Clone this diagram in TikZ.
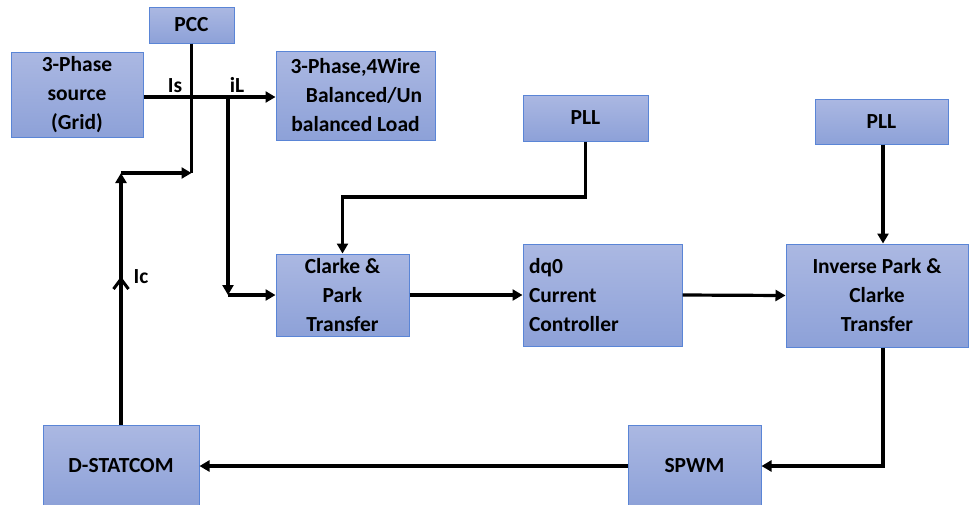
\documentclass[tikz,border=0pt]{standalone}
\usepackage{fontspec}
\setmainfont{Carlito}
\usetikzlibrary{arrows.meta}
\definecolor{boxtop}{HTML}{ABB8E2}
\definecolor{boxbot}{HTML}{8DA1D8}
\definecolor{boxline}{HTML}{5A85D6}
\tikzset{
  blk/.style={draw=boxline, line width=1pt, top color=boxtop, bottom color=boxbot,
    inner sep=0pt, align=center, font=\bfseries\fontsize{21.5}{29}\selectfont},
  wire/.style={line width=3.2pt, line join=miter},
  arr/.style={wire, -{Triangle[length=10pt,width=11pt]}},
  lbl/.style={font=\bfseries\fontsize{21.5}{22}\selectfont, inner sep=0pt},
  chev/.style={line width=3pt, line join=miter, line cap=butt}
}
\begin{document}
\begin{tikzpicture}[x=1pt,y=-1pt]
\useasboundingbox (0,0) rectangle (969,504);
% boxes (centers at image coordinates)
\node[blk, minimum width=85pt, minimum height=36pt] (pcc) at (191.5,25) {PCC};
\node[blk, minimum width=132pt, minimum height=85pt] (src) at (77,94.5) {3-Phase\\source\\(Grid)};
\node[blk, minimum width=159pt, minimum height=89pt] (load) at (355.5,95.5) {3-Phase,4Wire\\\hspace*{0.8em}Balanced/Un\\balanced Load};
\node[blk, minimum width=125pt, minimum height=46pt] (pll1) at (585.5,118) {PLL};
\node[blk, minimum width=133pt, minimum height=45pt] (pll2) at (881.5,121.5) {PLL};
\node[blk, minimum width=133pt, minimum height=82pt] (clk) at (342.5,295) {Clarke \&\\Park\\Transfer};
\node[blk, minimum width=159pt, minimum height=102pt, align=left, text width=147pt] (dq) at (602.5,295) {dq0\\Current\\Controller};
\node[blk, minimum width=182pt, minimum height=103pt] (inv) at (877,295.5) {Inverse Park \&\\Clarke\\Transfer};
\node[blk, minimum width=133pt, minimum height=82pt] (spwm) at (694.5,466) {SPWM};
\node[blk, minimum width=156pt, minimum height=82pt] (dst) at (121,466) {D-STATCOM};
% junction coordinates
\coordinate (pccj) at (191.5,173);
\coordinate (icc) at (121,173);
\coordinate (icm) at (121,279);
\coordinate (ilt) at (228,97);
\coordinate (ilb) at (228,295);
\coordinate (pllc) at (585.5,197);
\coordinate (invc) at (883,466);
% connectors
\draw[arr] (src.east |- ilt) -- (load.west |- ilt);
\draw[wire] (pcc.south) -- (pccj);
\draw[arr] (dst.north) -- (icc);
\draw[chev] ([shift={(-7.5,10)}]icm) -- (icm) -- ([shift={(7.5,10)}]icm);
\draw[arr] (icc) -- (pccj);
\draw[arr] (ilt) -- (ilb);
\draw[arr] (ilb) -- (clk.west);
\draw[arr] (pll1.south) -- (pllc) -- (pllc -| clk.north) -- (clk.north);
\draw[arr] (clk.east) -- (dq.west);
\draw[arr] (dq.east) -- (inv.west);
\draw[arr] (pll2.south -| invc) -- (inv.north -| invc);
\draw[arr] (inv.south -| invc) -- (invc) -- (spwm.east);
\draw[arr] (spwm.west) -- (dst.east);
% labels
\node[lbl] (lis) at (175,86) {Is};
\node[lbl] (lil) at (237,85) {iL};
\node[lbl] (lic) at (141,277) {Ic};
\end{tikzpicture}
\end{document}
